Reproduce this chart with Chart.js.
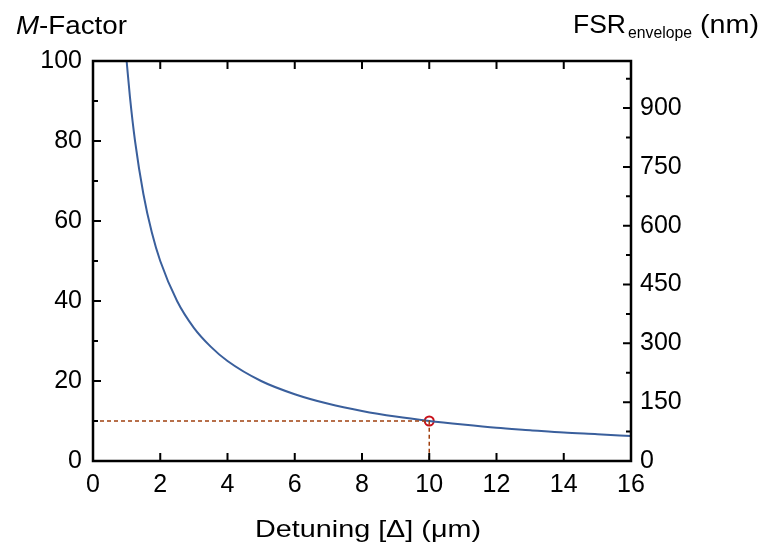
<!DOCTYPE html>
<html lang="en">
  <head>
    <meta charset="UTF-8" />
    <title>M-Factor vs Detuning</title>
    <script src="https://cdn.jsdelivr.net/npm/chart.js"></script>
    <style>
      body { margin: 0; background: #fff; }
      #wrap { width: 764px; height: 552px; position: relative; }
    </style>
  </head>
  <body>
    <div id="wrap"><canvas id="mChart"></canvas></div>
    <script>
      // values
      const detuning = [1, 1.1, 1.25, 1.5, 1.75, 2, 2.5, 3, 3.5, 4, 5, 6, 7, 8, 9, 10, 11, 12, 13, 14, 15, 16];
      const mFactor = [100, 90.9, 80, 66.7, 57.1, 50, 40, 33.3, 28.6, 25, 20, 16.7, 14.3, 12.5, 11.1, 10, 9.1, 8.3, 7.7, 7.1, 6.7, 6.25];
      const guideX = [0, 10, 10];
      const guideY = [10, 10, 0];
      const markX = [10];
      const markY = [10];
      const xTicks = [0, 2, 4, 6, 8, 10, 12, 14, 16];
      const leftTicks = [0, 20, 40, 60, 80, 100];
      const rightTicks = [0, 150, 300, 450, 600, 750, 900];

      const FONT = "'Liberation Sans', Arial, sans-serif";
      const toPts = (xs, ys) => xs.map((x, i) => ({ x: x, y: ys[i] }));

      // draw text squeezed/stretched horizontally to a given width
      function fitText(ctx, parts, x, y, width) {
        let total = 0;
        parts.forEach((p) => { ctx.font = p.font; total += ctx.measureText(p.text).width; });
        const k = width / total;
        ctx.save();
        ctx.translate(x, y);
        ctx.scale(k, 1);
        let cx = 0;
        parts.forEach((p) => {
          ctx.font = p.font;
          ctx.fillText(p.text, cx, 0);
          cx += ctx.measureText(p.text).width;
        });
        ctx.restore();
      }

      // frame, inward ticks and header texts
      const framePlugin = {
        id: "frame",
        afterDraw(chart) {
          const ctx = chart.ctx;
          const a = chart.chartArea;
          const sx = chart.scales.x, sy = chart.scales.y, sr = chart.scales.y2;
          ctx.save();
          ctx.strokeStyle = "#000";
          ctx.lineWidth = 2.5;
          ctx.strokeRect(a.left, a.top, a.right - a.left, a.bottom - a.top);
          ctx.lineWidth = 2;
          ctx.beginPath();
          for (let v = 2; v < 16; v += 2) {
            const px = sx.getPixelForValue(v);
            ctx.moveTo(px, a.bottom); ctx.lineTo(px, a.bottom - 8);
            ctx.moveTo(px, a.top); ctx.lineTo(px, a.top + 8);
          }
          for (let v = 10; v < 100; v += 10) {
            const py = sy.getPixelForValue(v);
            const len = v % 20 === 0 ? 8 : 5;
            ctx.moveTo(a.left, py); ctx.lineTo(a.left + len, py);
          }
          for (let v = 75; v < 1020; v += 75) {
            const py = sr.getPixelForValue(v);
            const len = v % 150 === 0 ? 8 : 5;
            ctx.moveTo(a.right, py); ctx.lineTo(a.right - len, py);
          }
          ctx.stroke();

          ctx.fillStyle = "#000";
          ctx.textBaseline = "alphabetic";
          ctx.textAlign = "left";
          const big = "25px " + FONT;
          fitText(ctx, [{ text: "M", font: "italic " + big }, { text: "-Factor", font: big }], 16, 34, 111);
          fitText(ctx, [{ text: "FSR", font: big }], 573, 33, 53);
          fitText(ctx, [{ text: "envelope", font: "16px " + FONT }], 628, 38, 64);
          fitText(ctx, [{ text: "(nm)", font: big }], 700, 33, 59);
          fitText(ctx, [{ text: "Detuning [\u0394] (\u03bcm)", font: "24px " + FONT }], 255, 537, 226);
          ctx.restore();
        },
      };

      new Chart(document.getElementById("mChart"), {
        type: "scatter",
        data: {
          datasets: [
            {
              data: toPts(guideX, guideY),
              showLine: true,
              borderColor: "#a0400f",
              borderWidth: 1.5,
              borderDash: [4, 3],
              pointRadius: 0,
              fill: false,
            },
            {
              data: toPts(detuning, mFactor),
              showLine: true,
              borderColor: "#3a5f9c",
              borderWidth: 2,
              pointRadius: 0,
              cubicInterpolationMode: "monotone",
              fill: false,
            },
            {
              data: toPts(markX, markY),
              pointRadius: 4.5,
              pointBorderWidth: 2,
              pointBorderColor: "#c8101a",
              pointBackgroundColor: "#fff",
            },
          ],
        },
        options: {
          responsive: true,
          maintainAspectRatio: false,
          animation: false,
          events: [],
          layout: { padding: { top: 61, left: 0, right: 0, bottom: 0 } },
          plugins: { legend: { display: false }, tooltip: { enabled: false } },
          scales: {
            x: {
              type: "linear",
              min: 0,
              max: 16,
              afterFit: (s) => { s.height = 91; },
              afterBuildTicks: (s) => { s.ticks = xTicks.map((v) => ({ value: v })); },
              grid: { display: false, drawTicks: false },
              border: { display: false },
              ticks: { color: "#000", font: { size: 25, family: FONT }, padding: 9, maxRotation: 0 },
            },
            y: {
              type: "linear",
              position: "left",
              min: 0,
              max: 100,
              afterFit: (s) => { s.width = 93; },
              afterBuildTicks: (s) => { s.ticks = leftTicks.map((v) => ({ value: v })); },
              grid: { display: false, drawTicks: false },
              border: { display: false },
              ticks: { color: "#000", font: { size: 25, family: FONT }, padding: 11 },
            },
            y2: {
              type: "linear",
              position: "right",
              min: 0,
              max: 1020,
              afterFit: (s) => { s.width = 133; },
              afterBuildTicks: (s) => { s.ticks = rightTicks.map((v) => ({ value: v })); },
              grid: { display: false, drawTicks: false },
              border: { display: false },
              ticks: { color: "#000", font: { size: 25, family: FONT }, padding: 9 },
            },
          },
        },
        plugins: [framePlugin],
      });
    </script>
  </body>
</html>
